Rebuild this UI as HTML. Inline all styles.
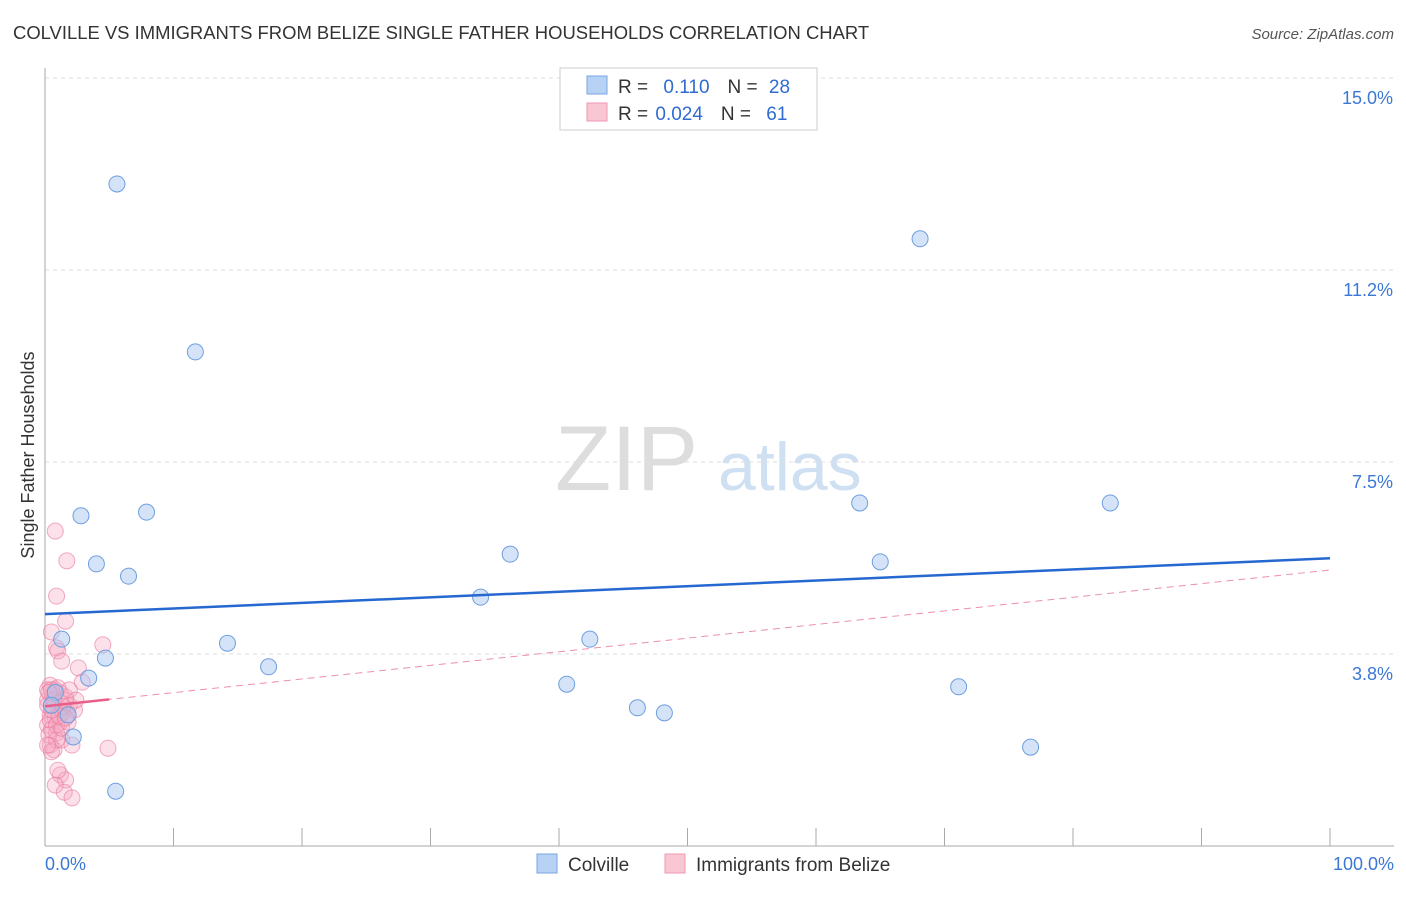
<!DOCTYPE html>
<html><head><meta charset="utf-8"><style>
body{margin:0;background:#fff;font-family:"Liberation Sans",sans-serif}
svg text{font-family:"Liberation Sans",sans-serif}
</style></head><body>
<svg id="chart" width="1406" height="892" xmlns="http://www.w3.org/2000/svg">
<text x="13" y="39" font-size="18.45" fill="#333">COLVILLE VS IMMIGRANTS FROM BELIZE SINGLE FATHER HOUSEHOLDS CORRELATION CHART</text>
<text x="1394" y="39" font-size="15" fill="#555" text-anchor="end" font-style="italic">Source: ZipAtlas.com</text>
<text x="555" y="490" font-size="92" fill="#ddd" font-family="Liberation Serif">ZIP</text>
<text x="718" y="490" font-size="68" fill="#cfe0f3">atlas</text>
<g id="grid"></g><g id="axes"></g><g id="trends"></g><g id="points"></g>
<text transform="translate(34,455) rotate(-90)" font-size="18" fill="#333" text-anchor="middle">Single Father Households</text>
<g>
<rect x="560" y="68" width="257" height="62" fill="#fff" stroke="#ccc"/>
<rect x="587" y="76" width="20" height="18" fill="#b7d2f5" stroke="#7aa6e0"/>
<text x="618" y="93" font-size="19" fill="#333">R =  <tspan fill="#2f6bd0" dx="10">0.110</tspan><tspan dx="18" fill="#333">N = </tspan><tspan fill="#2f6bd0" dx="6">28</tspan></text>
<rect x="587" y="103" width="20" height="18" fill="#f9c6d4" stroke="#ee98b2"/>
<text x="618" y="120" font-size="19" fill="#333">R = <tspan fill="#2f6bd0" dx="2">0.024</tspan><tspan dx="18" fill="#333">N = </tspan><tspan fill="#2f6bd0" dx="10">61</tspan></text>
</g>
<g>
<rect x="537" y="854" width="20" height="19" fill="#b7d2f5" stroke="#7aa6e0"/>
<text x="568" y="871" font-size="19" fill="#333">Colville</text>
<rect x="665" y="854" width="20" height="19" fill="#f9c6d4" stroke="#ee98b2"/>
<text x="696" y="871" font-size="19" fill="#333">Immigrants from Belize</text>
</g>
</svg>
<script>
const yTicks=[3.75,7.5,11.25,15];
const yTickLabels=["3.8%","7.5%","11.2%","15.0%"];
const blueX=[5.6,68.1,11.7,2.8,7.9,63.4,82.9,36.2,4.0,6.5,65.0,33.9,1.3,42.4,14.2,4.7,17.4,3.4,40.6,71.1,46.1,48.2,1.8,2.2,76.7,5.5,0.8,0.5];
const blueY=[12.93,11.86,9.65,6.45,6.52,6.70,6.70,5.70,5.51,5.27,5.55,4.86,4.04,4.04,3.96,3.67,3.50,3.28,3.16,3.11,2.70,2.60,2.56,2.13,1.93,1.07,3.0,2.75];
const pinkX=[0.8,1.7,0.9,1.6,0.5,0.9,1.0,4.5,1.3,2.6,2.9,0.4,0.8,1.2,1.6,0.2,0.6,1.0,1.4,1.9,0.4,0.8,1.2,1.7,0.2,0.5,0.9,1.3,0.4,0.7,2.1,4.9,1.2,1.6,0.8,1.5,2.1,0.4,0.6,0.2,1.0,1.6,0.5,0.9,0.3,2.3,1.9,0.9,1.3,1.8,0.5,1.1,0.2,0.7,1.4,1.6,0.5,1.0,0.2,2.4,0.3];
const pinkY=[6.15,5.57,4.88,4.39,4.18,3.87,3.81,3.93,3.61,3.48,3.20,3.14,3.05,2.99,2.91,2.85,2.75,2.70,2.62,2.75,2.56,2.50,2.42,2.56,2.36,2.27,2.21,2.07,1.97,1.88,1.97,1.91,1.39,1.29,1.19,1.05,0.94,2.46,2.95,3.05,3.09,2.85,2.66,2.36,2.17,2.66,3.05,2.07,2.30,2.42,3.05,2.54,2.75,2.85,2.73,2.50,1.84,1.48,1.97,2.85,3.00];
const blueTrend=[4.53,5.62];
const pinkTrend=[2.73,5.39];
const X=v=>45+v/100*1285, Y=v=>846-v/15*768;
const NS="http://www.w3.org/2000/svg";
function mk(parent,tag,attrs){const e=document.createElementNS(NS,tag);for(const k in attrs)e.setAttribute(k,attrs[k]);document.getElementById(parent).appendChild(e);return e;}
yTicks.forEach((t,i)=>{
 const g=mk('grid','line',{x1:45,x2:1394,y1:Y(t),y2:Y(t),stroke:'#ddd','stroke-dasharray':'4,4'});
 
 
 const l=mk('grid','text',{x:1393,y:Y(t)+26,'font-size':18,fill:'#3b78d6','text-anchor':'end'});
 l.textContent=yTickLabels[i];
 
 
});
const ax=mk('axes','line',{x1:45,x2:45,y1:68,y2:846,stroke:'#aaa'});


const bx=mk('axes','line',{x1:45,x2:1394,y1:846,y2:846,stroke:'#aaa'});


for(let i=0;i<=10;i++){const t=mk('axes','line',{x1:X(i*10),x2:X(i*10),y1:828,y2:846,stroke:'#aaa'});
 
 }
const x0=mk('axes','text',{x:45,y:870,'font-size':18,fill:'#3b78d6'});x0.textContent='0.0%';


const x1=mk('axes','text',{x:1394,y:870,'font-size':18,fill:'#3b78d6','text-anchor':'end'});x1.textContent='100.0%';


const pd=mk('trends','line',{x1:X(0),y1:Y(pinkTrend[0]),x2:X(100),y2:Y(pinkTrend[1]),stroke:'#ec8fac','stroke-dasharray':'7,5','stroke-width':1});


pinkX.forEach((x,i)=>{const c=mk('points','circle',{cx:X(x),cy:Y(pinkY[i]),r:8,fill:'rgba(246,170,194,0.35)',stroke:'rgba(232,120,155,0.6)','stroke-width':1});
 
 });
blueX.forEach((x,i)=>{const c=mk('points','circle',{cx:X(x),cy:Y(blueY[i]),r:8,fill:'rgba(170,200,240,0.5)',stroke:'#6e9ee0','stroke-width':1});
 
 });
const ps=mk('points','line',{x1:X(0),y1:Y(pinkTrend[0]),x2:X(5),y2:Y(pinkTrend[0]+(pinkTrend[1]-pinkTrend[0])*0.05),stroke:'#e8608a','stroke-width':2.5});


const bt=mk('points','line',{x1:X(0),y1:Y(blueTrend[0]),x2:X(100),y2:Y(blueTrend[1]),stroke:'#2468d0','stroke-width':2.5});


</script>
</body></html>
